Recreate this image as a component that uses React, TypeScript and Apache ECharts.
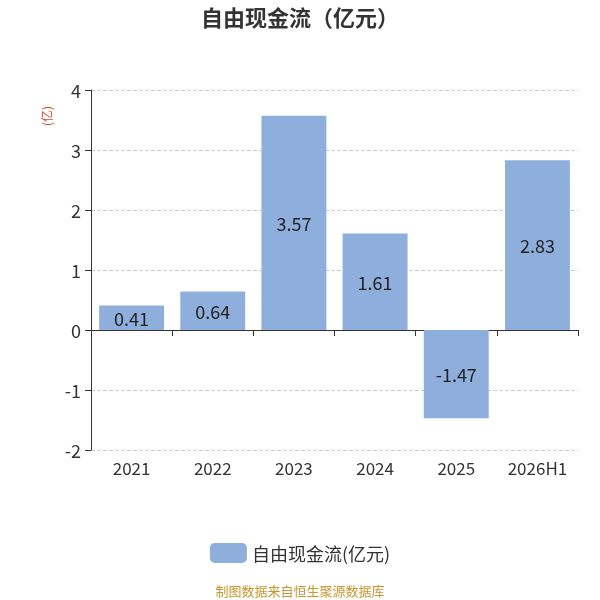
import React, { useEffect, useRef } from "react";
import * as echarts from "echarts";

const categories = ["2021", "2022", "2023", "2024", "2025", "2026H1"];
const values = [0.41, 0.64, 3.57, 1.61, -1.47, 2.83];
const seriesName = "自由现金流(亿元)";
const titleText = "自由现金流（亿元）";
const unitText = "(亿)";
const sourceText = "制图数据来自恒生聚源数据库";

const FONT = "'Noto Sans CJK SC', 'Noto Sans', sans-serif";

export default function App() {
  const ref = useRef<HTMLDivElement>(null);
  useEffect(() => {
    if (!ref.current) return;
    const chart = echarts.init(ref.current, undefined, { renderer: "svg" });
    chart.setOption({
      animation: false,
      textStyle: { fontFamily: FONT },
      title: {
        text: titleText,
        left: "center",
        top: 0,
        textStyle: { fontSize: 22, fontWeight: "bold", color: "#333", fontFamily: FONT },
      },
      legend: {
        top: 538,
        left: "center",
        itemWidth: 37,
        itemHeight: 20,
        itemGap: 10,
        itemStyle: { borderRadius: 4 },
        textStyle: { fontSize: 18, color: "#333", fontFamily: FONT },
        data: [seriesName],
      },
      grid: { left: 91, right: 22, top: 90, bottom: 150 },
      graphic: [
        {
          type: "text",
          x: 46,
          y: 116,
          rotation: Math.PI / 2,
          style: {
            text: unitText,
            fill: "#d14a2b",
            fontSize: 12,
            fontFamily: FONT,
            align: "center",
            verticalAlign: "middle",
          },
        },
        {
          type: "text",
          left: "center",
          top: 584,
          style: {
            text: sourceText,
            fill: "#c8962e",
            fontSize: 13,
            fontFamily: FONT,
          },
        },
      ],
      xAxis: [
        {
          type: "category",
          data: categories,
          position: "bottom",
          axisLine: { show: false, onZero: false },
          axisTick: { show: false },
          axisLabel: { interval: 0, fontSize: 17, color: "#333", margin: 9, fontFamily: FONT },
        },
        {
          type: "category",
          data: categories,
          position: "top",
          axisLine: {
            show: true,
            onZero: true,
            onZeroAxisIndex: 0,
            lineStyle: { color: "#333", width: 1 },
          },
          axisTick: { show: true, inside: true, length: 6, lineStyle: { color: "#333" } },
          axisLabel: { show: false },
          splitLine: { show: false },
        },
      ],
      yAxis: {
        type: "value",
        min: -2,
        max: 4,
        interval: 1,
        axisLine: { show: true, lineStyle: { color: "#333", width: 1 } },
        axisTick: { show: true, length: 6, lineStyle: { color: "#333" } },
        axisLabel: { fontSize: 18, color: "#333", margin: 10, fontFamily: FONT },
        splitLine: { show: true, lineStyle: { type: "dashed", color: "#ccc" } },
      },
      series: [
        {
          name: seriesName,
          type: "bar",
          data: values,
          barWidth: "80%",
          itemStyle: { color: "#8eaedb" },
          label: {
            show: true,
            position: "inside",
            fontSize: 18,
            color: "#222",
            fontFamily: FONT,
          },
        },
      ],
    });
    return () => chart.dispose();
  }, []);
  return (
    <div
      ref={ref}
      style={{ position: "fixed", left: 0, top: 0, width: 600, height: 600 }}
    />
  );
}
